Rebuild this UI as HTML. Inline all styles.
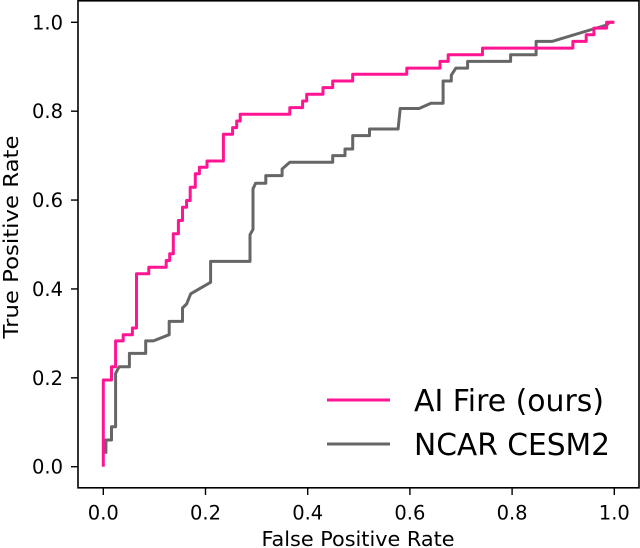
<!DOCTYPE html>
<html><head><meta charset="utf-8"><style>
html,body{margin:0;padding:0;background:#fff;}
svg{display:block;font-family:"DejaVu Sans","Liberation Sans",sans-serif;}
</style></head><body>
<svg id="chart" width="640" height="548" viewBox="0 0 640 548" xmlns="http://www.w3.org/2000/svg">
<rect x="0" y="0" width="640" height="548" fill="#fff"/>
<g id="ticks"></g>
<g id="series"></g>
<rect x="78" y="0.8" width="561" height="487" fill="none" stroke="#000" stroke-width="1.6"/>
<text x="358" y="546" font-size="20.5" text-anchor="middle" textLength="193" lengthAdjust="spacingAndGlyphs">False Positive Rate</text>
<text transform="translate(18,237) rotate(-90)" font-size="20.5" text-anchor="middle" textLength="203" lengthAdjust="spacingAndGlyphs">True Positive Rate</text>
<g>
<line x1="327" y1="400" x2="390" y2="400" stroke="#ff1493" stroke-width="3"/>
<text x="414" y="411" font-size="30" textLength="190" lengthAdjust="spacingAndGlyphs">AI Fire (ours)</text>
<line x1="327" y1="444" x2="390" y2="444" stroke="#666" stroke-width="3"/>
<text x="414" y="455" font-size="30" textLength="196" lengthAdjust="spacingAndGlyphs">NCAR CESM2</text>
</g>
</svg>
<script>
const xTicks = [0, 0.2, 0.4, 0.6, 0.8, 1.0];
const yTicks = [0, 0.2, 0.4, 0.6, 0.8, 1.0];
const tickLabels = ["0.0", "0.2", "0.4", "0.6", "0.8", "1.0"];
const aiFireFpr = [0,0,0.016,0.016,0.024,0.024,0.039,0.039,0.057,0.057,0.065,0.065,0.089,0.089,0.123,0.123,0.130,0.130,0.137,0.137,0.147,0.147,0.155,0.155,0.163,0.163,0.170,0.170,0.180,0.180,0.188,0.188,0.203,0.203,0.235,0.235,0.253,0.253,0.261,0.261,0.268,0.268,0.365,0.365,0.390,0.390,0.398,0.398,0.430,0.430,0.449,0.449,0.488,0.488,0.594,0.594,0.659,0.659,0.675,0.675,0.742,0.742,0.919,0.919,0.945,0.945,0.960,0.960,0.985,0.985,1.0];
const aiFireTpr = [0,0.195,0.195,0.225,0.225,0.283,0.283,0.297,0.297,0.312,0.312,0.434,0.434,0.449,0.449,0.464,0.464,0.479,0.479,0.524,0.524,0.554,0.554,0.584,0.584,0.599,0.599,0.629,0.629,0.659,0.659,0.674,0.674,0.688,0.688,0.748,0.748,0.763,0.763,0.778,0.778,0.793,0.793,0.808,0.808,0.823,0.823,0.838,0.838,0.853,0.853,0.868,0.868,0.883,0.883,0.897,0.897,0.912,0.912,0.927,0.927,0.942,0.942,0.957,0.957,0.972,0.972,0.987,0.987,1.0,1.0];
const ncarFpr = [0.005,0.005,0.016,0.016,0.024,0.024,0.031,0.051,0.051,0.083,0.083,0.098,0.129,0.129,0.155,0.155,0.163,0.171,0.210,0.210,0.287,0.287,0.293,0.293,0.298,0.318,0.318,0.350,0.350,0.365,0.449,0.449,0.473,0.473,0.488,0.488,0.521,0.521,0.577,0.581,0.618,0.641,0.665,0.665,0.681,0.681,0.690,0.713,0.713,0.797,0.797,0.847,0.847,0.878,0.985,0.991,1.0];
const ncarTpr = [0.029,0.060,0.060,0.090,0.090,0.210,0.225,0.225,0.255,0.255,0.283,0.283,0.297,0.327,0.327,0.357,0.366,0.389,0.415,0.462,0.462,0.522,0.534,0.625,0.638,0.638,0.655,0.655,0.670,0.685,0.685,0.700,0.700,0.715,0.715,0.745,0.745,0.760,0.760,0.806,0.806,0.818,0.818,0.868,0.868,0.881,0.897,0.897,0.912,0.912,0.927,0.927,0.957,0.957,0.994,1.0,1.0];

const NS = "http://www.w3.org/2000/svg";
const X0 = 103.3, XS = 511, Y0 = 466.7, YS = 444.4;
function sx(v){ return X0 + v * XS; }
function sy(v){ return Y0 - v * YS; }

const tg = document.getElementById('ticks');
xTicks.forEach((t, i) => {
  const l = document.createElementNS(NS, 'line');
  l.setAttribute('x1', sx(t)); l.setAttribute('x2', sx(t));
  l.setAttribute('y1', 488); l.setAttribute('y2', 495);
  l.setAttribute('stroke', '#000'); l.setAttribute('stroke-width', '1.4');
  
  
  tg.appendChild(l);
  const tx = document.createElementNS(NS, 'text');
  tx.setAttribute('x', sx(t)); tx.setAttribute('y', 519.5);
  tx.setAttribute('font-size', '19.5'); tx.setAttribute('text-anchor', 'middle');
  tx.textContent = tickLabels[i];
  
  
  tg.appendChild(tx);
});
yTicks.forEach((t, i) => {
  const l = document.createElementNS(NS, 'line');
  l.setAttribute('x1', 71); l.setAttribute('x2', 78);
  l.setAttribute('y1', sy(t)); l.setAttribute('y2', sy(t));
  l.setAttribute('stroke', '#000'); l.setAttribute('stroke-width', '1.4');
  
  
  tg.appendChild(l);
  const tx = document.createElementNS(NS, 'text');
  tx.setAttribute('x', 63); tx.setAttribute('y', sy(t) + 7);
  tx.setAttribute('font-size', '19.5'); tx.setAttribute('text-anchor', 'end');
  tx.textContent = tickLabels[i];
  
  
  tg.appendChild(tx);
});

const sg = document.getElementById('series');
function drawLine(xs, ys, color, name){
  const p = document.createElementNS(NS, 'polyline');
  p.setAttribute('points', xs.map((v, i) => sx(v).toFixed(1) + ',' + sy(ys[i]).toFixed(1)).join(' '));
  p.setAttribute('fill', 'none'); p.setAttribute('stroke', color);
  p.setAttribute('stroke-width', '3'); p.setAttribute('stroke-linejoin', 'round');
  
  
  sg.appendChild(p);
}
drawLine(ncarFpr, ncarTpr, '#666666', 'ncar-cesm2-roc-line');
drawLine(aiFireFpr, aiFireTpr, '#ff1493', 'ai-fire-roc-line');
</script>
</body></html>
